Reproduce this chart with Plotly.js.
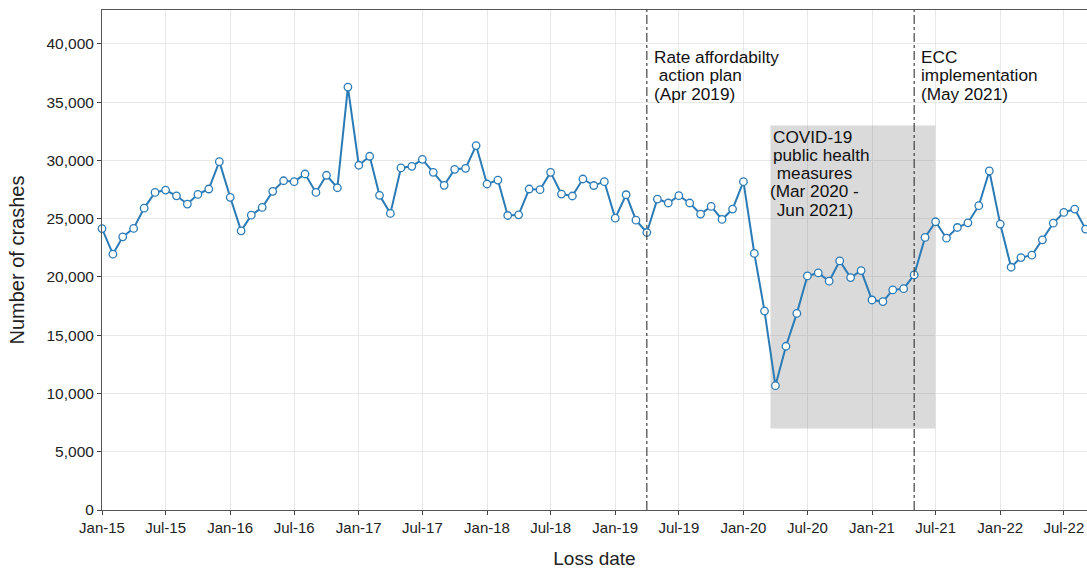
<!DOCTYPE html>
<html>
<head>
<meta charset="utf-8">
<script src="https://cdn.plot.ly/plotly-3.0.1.min.js"></script>
<style>html,body{margin:0;padding:0;background:#fff;}#chart{width:1087px;height:569px;}</style>
</head>
<body>
<div id="chart"></div>
<script>
// Months (x categories)
const months = [
  '2015-01','2015-02','2015-03','2015-04','2015-05','2015-06','2015-07','2015-08','2015-09','2015-10','2015-11','2015-12',
  '2016-01','2016-02','2016-03','2016-04','2016-05','2016-06','2016-07','2016-08','2016-09','2016-10','2016-11','2016-12',
  '2017-01','2017-02','2017-03','2017-04','2017-05','2017-06','2017-07','2017-08','2017-09','2017-10','2017-11','2017-12',
  '2018-01','2018-02','2018-03','2018-04','2018-05','2018-06','2018-07','2018-08','2018-09','2018-10','2018-11','2018-12',
  '2019-01','2019-02','2019-03','2019-04','2019-05','2019-06','2019-07','2019-08','2019-09','2019-10','2019-11','2019-12',
  '2020-01','2020-02','2020-03','2020-04','2020-05','2020-06','2020-07','2020-08','2020-09','2020-10','2020-11','2020-12',
  '2021-01','2021-02','2021-03','2021-04','2021-05','2021-06','2021-07','2021-08','2021-09','2021-10','2021-11','2021-12',
  '2022-01','2022-02','2022-03','2022-04','2022-05','2022-06','2022-07','2022-08','2022-09'
];
// Number of crashes per month
const crashes = [
  24150, 21950, 23440, 24160, 25900, 27250, 27450, 26960, 26250, 27080, 27540, 29890,
  26830, 23950, 25300, 25960, 27340, 28250, 28170, 28830, 27250, 28720, 27650, 36290,
  29580, 30350, 27000, 25450, 29350, 29490, 30090, 28970, 27860, 29230, 29320, 31270,
  27970, 28310, 25270, 25330, 27540, 27480, 28970, 27110, 26940, 28400, 27840, 28170,
  25040, 27050, 24870, 23810, 26680, 26340, 26970, 26340, 25390, 26050, 24930, 25820,
  28170, 22010, 17070, 10670, 14050, 16870, 20080, 20340, 19630, 21370, 19940, 20540,
  18020, 17880, 18880, 18990, 20170, 23390, 24730, 23320, 24240, 24640, 26110, 29090,
  24530, 20830, 21660, 21860, 23180, 24610, 25530, 25820, 24100
];
// Events
const eventDates = ['2019-04-01', '2021-05-01'];
const covidPeriod = ['2020-03-18', '2021-06-30'];
const covidBand = [7000, 33000];
const rateLabel = ['Rate affordabilty', '\u00a0action plan', '(Apr 2019)'];
const eccLabel = ['ECC', 'implementation', '(May 2021)'];
const covidLabel = ['COVID-19', 'public health', '\u00a0measures', '(Mar 2020 -', '\u00a0Jun 2021)'];
const yTicks = [0, 5000, 10000, 15000, 20000, 25000, 30000, 35000, 40000];

const FONT = 'Liberation Sans, Arial, Helvetica, sans-serif';
const blue = '#2B7BB6';
const ANN = 17.2;

const trace = {
  x: months, y: crashes, type: 'scatter', mode: 'lines+markers',
  line: {color: blue, width: 2},
  marker: {size: 7.5, color: '#ffffff', line: {color: blue, width: 1.3}},
  hoverinfo: 'x+y', cliponaxis: false
};

const annotations = [];
const linePaperY3 = [0.906, 0.8694, 0.8328];
rateLabel.forEach((t, i) => annotations.push({
  x: eventDates[0], y: linePaperY3[i], xref: 'x', yref: 'paper', text: t, showarrow: false, borderpad: 0,
  xanchor: 'left', yanchor: 'middle', xshift: 6, font: {family: FONT, size: ANN, color: '#111'}
}));
eccLabel.forEach((t, i) => annotations.push({
  x: eventDates[1], y: linePaperY3[i], xref: 'x', yref: 'paper', text: t, showarrow: false, borderpad: 0,
  xanchor: 'left', yanchor: 'middle', xshift: 6, font: {family: FONT, size: ANN, color: '#111'}
}));
const covidY = [0.747, 0.7104, 0.6738, 0.6372, 0.6006];
const covidShift = [2, 2, 1, -1, 1];
covidLabel.forEach((t, i) => annotations.push({
  x: covidPeriod[0], y: covidY[i], xref: 'x', yref: 'paper', text: t, showarrow: false, borderpad: 0,
  xanchor: 'left', yanchor: 'middle', xshift: covidShift[i], font: {family: FONT, size: ANN, color: '#111'}
}));

const shapes = [
  {type: 'rect', xref: 'x', yref: 'y', x0: covidPeriod[0], x1: covidPeriod[1], y0: covidBand[0], y1: covidBand[1],
   fillcolor: 'rgba(128,128,128,0.29)', line: {width: 0}, layer: 'between'},
  {type: 'line', xref: 'x', yref: 'paper', x0: eventDates[0], x1: eventDates[0], y0: 0, y1: 1,
   line: {color: '#333', width: 1.1, dash: 'dashdot'}, layer: 'above'},
  {type: 'line', xref: 'x', yref: 'paper', x0: eventDates[1], x1: eventDates[1], y0: 0, y1: 1,
   line: {color: '#333', width: 1.1, dash: 'dashdot'}, layer: 'above'}
];

const layout = {
  width: 1087, height: 569,
  margin: {l: 102, r: 0, t: 10, b: 59},
  paper_bgcolor: '#fff', plot_bgcolor: '#fff',
  showlegend: false,
  font: {family: FONT, color: '#222'},
  xaxis: {
    type: 'date', range: ['2015-01-01', '2022-09-05'],
    tick0: '2015-01-01', dtick: 'M6', tickformat: '%b-%y',
    showgrid: true, gridcolor: '#e8e8e8', gridwidth: 1.3,
    showline: true, linecolor: '#555', linewidth: 1, mirror: true,
    ticks: 'outside', ticklen: 4, tickcolor: '#444', tickwidth: 1,
    tickfont: {family: FONT, size: 15, color: '#222'},
    zeroline: false,
    title: {text: 'Loss date', font: {family: FONT, size: 19, color: '#222'}, standoff: 16}
  },
  yaxis: {
    range: [0, 42900], tickvals: yTicks, tickformat: ',d',
    showgrid: true, gridcolor: '#e8e8e8', gridwidth: 1.3,
    showline: true, linecolor: '#555', linewidth: 1,
    ticks: 'outside', ticklen: 4, tickcolor: '#444', tickwidth: 1,
    tickfont: {family: FONT, size: 15.5, color: '#222'},
    zeroline: false,
    title: {text: 'Number of crashes', font: {family: FONT, size: 20, color: '#222'}, standoff: 16}
  },
  shapes: shapes,
  annotations: annotations
};

Plotly.newPlot('chart', [trace], layout, {displayModeBar: false, responsive: false});
</script>
</body>
</html>
